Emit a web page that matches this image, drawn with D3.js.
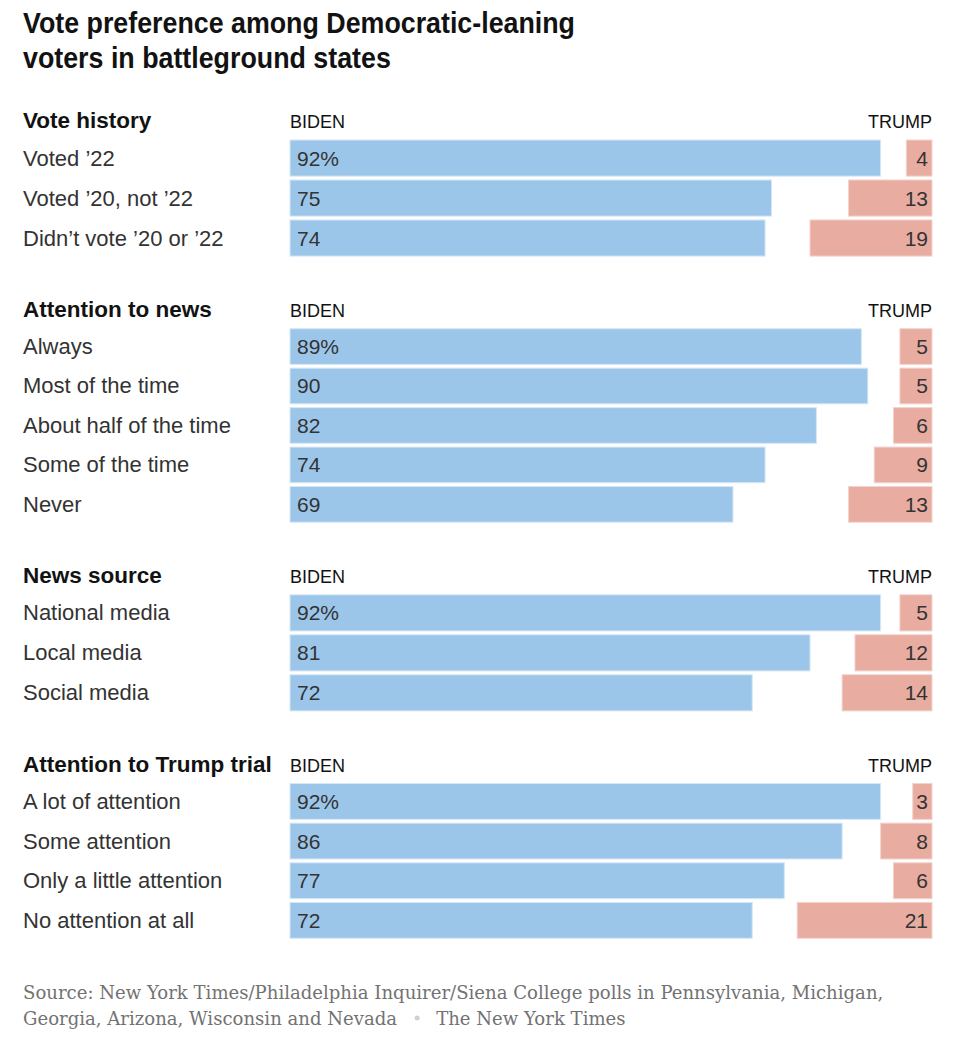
<!DOCTYPE html>
<html><head><meta charset="utf-8">
<script src="https://cdn.jsdelivr.net/npm/d3@7"></script>
<style>
body{margin:0;background:#fff;}
</style></head>
<body>
<svg id="chart" width="960" height="1040"></svg>
<script>
const groupTitles = ["Vote history","Attention to news","News source","Attention to Trump trial"];
const groupCategories = [
  ["Voted \u201922","Voted \u201920, not \u201922","Didn\u2019t vote \u201920 or \u201922"],
  ["Always","Most of the time","About half of the time","Some of the time","Never"],
  ["National media","Local media","Social media"],
  ["A lot of attention","Some attention","Only a little attention","No attention at all"]
];
const bidenValues = [[92,75,74],[89,90,82,74,69],[92,81,72],[92,86,77,72]];
const trumpValues = [[4,13,19],[5,5,6,9,13],[5,12,14],[3,8,6,21]];
const titleLines = ["Vote preference among Democratic-leaning","voters in battleground states"];
const sourceLines = ["Source: New York Times/Philadelphia Inquirer/Siena College polls in Pennsylvania, Michigan,","Georgia, Arizona, Wisconsin and Nevada"];
const credit = "The New York Times";

const svg = d3.select("#chart");
const sans = "'Liberation Sans', Arial, sans-serif";
const serif = "'DejaVu Serif', 'Liberation Serif', serif";

const title = svg.selectAll("text.title").data(titleLines).join("text")
  .attr("class","title")
  .attr("x",23).attr("y",(d,i)=>33+i*35)
  .attr("font-family",sans).attr("font-weight","bold").attr("font-size",29.5)
  .attr("fill","#121212").text(d=>d);
const tw = title.nodes().map(n=>n.getComputedTextLength());
const squeeze = 552/tw[0];
title.attr("lengthAdjust","spacingAndGlyphs").attr("textLength",(d,i)=>tw[i]*squeeze);

const x = d3.scaleLinear().domain([0,100]).range([0,642]);
const x0 = 290, x1 = 932;
const pitch = 38.7, barH = 35, groupGap = 72.6, firstTop = 140;

let groupTop = firstTop;
groupTitles.forEach((title,g)=>{
  const cats = groupCategories[g];
  const bandTop = groupTop;
  const G = svg.append("g");
  G.append("text").attr("x",23).attr("y",bandTop-12).attr("font-family",sans).attr("font-weight","bold")
    .attr("font-size",22.5).attr("fill","#121212").text(title);
  G.append("text").attr("x",x0).attr("y",bandTop-12).attr("font-family",sans).attr("font-size",18)
    .attr("fill","#121212").text("BIDEN");
  G.append("text").attr("x",x1).attr("y",bandTop-12).attr("text-anchor","end").attr("font-family",sans).attr("font-size",18)
    .attr("fill","#121212").text("TRUMP");
  const y = d3.scaleBand().domain(cats).range([bandTop, bandTop+pitch*cats.length])
    .paddingInner((pitch-barH)/pitch).paddingOuter(0).align(0);
  const rows = G.selectAll("g.row").data(cats.map((c,i)=>({c,b:bidenValues[g][i],t:trumpValues[g][i],i}))).join("g");
  rows.append("text").attr("x",23).attr("y",d=>y(d.c)+y.bandwidth()/2+7.5)
    .attr("font-family",sans).attr("font-size",22).attr("fill","#333").text(d=>d.c);
  rows.append("rect").attr("x",x0).attr("y",d=>y(d.c)).attr("width",d=>x(d.b)).attr("height",y.bandwidth())
    .attr("fill","#9cc6e9").attr("stroke","#d6e8f6").attr("stroke-width",1);
  rows.append("rect").attr("x",d=>x1-x(d.t)).attr("y",d=>y(d.c)).attr("width",d=>x(d.t)).attr("height",y.bandwidth())
    .attr("fill","#e8aca1").attr("stroke","#f3d3cd").attr("stroke-width",1);
  rows.append("text").attr("x",x0+7).attr("y",d=>y(d.c)+y.bandwidth()/2+7.5)
    .attr("font-family",sans).attr("font-size",21).attr("fill","#333").text(d=>d.i===0?d.b+"%":d.b);
  rows.append("text").attr("x",x1-4).attr("y",d=>y(d.c)+y.bandwidth()/2+7.5).attr("text-anchor","end")
    .attr("font-family",sans).attr("font-size",21).attr("fill","#333").text(d=>d.t);
  groupTop = bandTop + pitch*cats.length + groupGap;
});

const src = svg.selectAll("text.src").data(sourceLines).join("text")
  .attr("class","src")
  .attr("x",23).attr("y",(d,i)=>999+i*26)
  .attr("font-family",serif).attr("font-size",18).attr("fill","#727272").text(d=>d);
const w0 = src.nodes()[0].getComputedTextLength();
const fs = 18*861/w0;
src.attr("font-size",fs);
const w1 = src.nodes()[1].getComputedTextLength();
svg.append("circle").attr("cx",23+w1+20).attr("cy",1018).attr("r",2.5).attr("fill","#d0d0d0");
svg.append("text").attr("x",23+w1+39).attr("y",1025).attr("font-family",serif).attr("font-size",fs).attr("fill","#727272").text(credit);
</script>
</body></html>
